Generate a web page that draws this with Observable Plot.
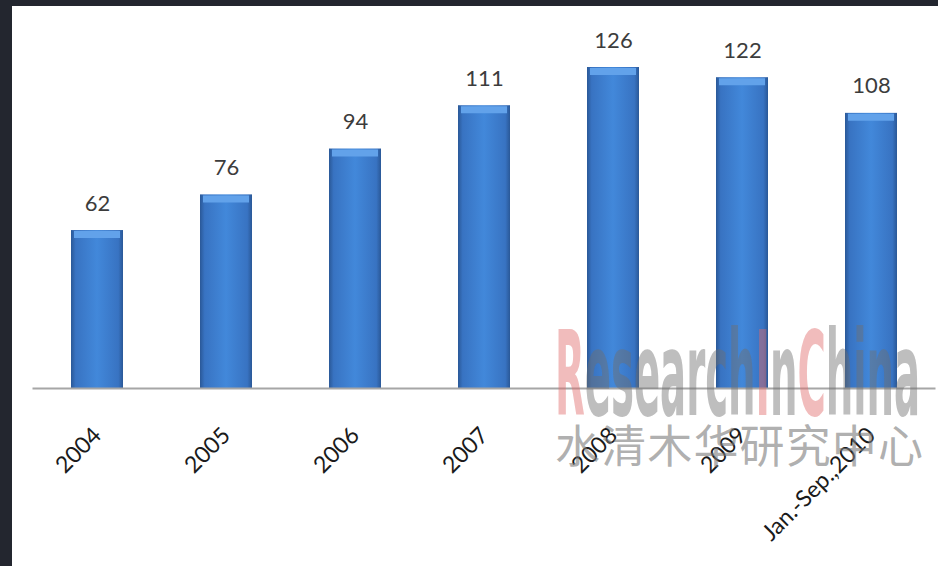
<!DOCTYPE html>
<html><head><meta charset="utf-8">
<script src="https://cdn.jsdelivr.net/npm/d3@7"></script>
<script src="https://cdn.jsdelivr.net/npm/@observablehq/plot@0.6"></script>
<style>
html,body{margin:0;padding:0;background:#23262f;width:938px;height:566px;overflow:hidden}
#chart{position:absolute;left:12px;top:6px;width:926px;height:560px;background:#fff}
</style></head><body><div id="chart"></div>
<script>
const categories = ["2004","2005","2006","2007","2008","2009","Jan.-Sep.,2010"];
const values = [62,76,94,111,126,122,108];
const watermarkParts = [["R","#e06a6a"],["esearch","#6e6e6e"],["I","#e06a6a"],["n","#6e6e6e"],["C","#e06a6a"],["hina","#6e6e6e"]];
const watermarkCN = "水清木华研究中心";

const data = categories.map((c,i)=>({category:c, value:values[i]}));

const plot = Plot.plot({
  width:926, height:560,
  marginTop:61, marginBottom:178, marginLeft:20.5, marginRight:2.5,
  style:{background:"transparent", fontFamily:"Lato, 'Open Sans', sans-serif"},
  x:{domain:categories, paddingInner:0.597, paddingOuter:0.2985, label:null},
  y:{domain:[0,126], axis:null},
  marks:[
    Plot.barY(data,{x:"category", y:"value", fill:"url(#barGrad)"}),
    Plot.tickY(data,{x:"category", y:"value", stroke:"#62a2ea", strokeWidth:7, dy:4, insetLeft:3, insetRight:3}),
    Plot.ruleY([0],{stroke:"#a6a6a6", strokeWidth:2}),
    Plot.text(data,{x:"category", y:"value", text:d=>String(d.value), dy:-27, fontSize:22, fill:"#3c3c3c"}),
    Plot.axisX({tickSize:0, tickPadding:43, tickRotate:-45, fontSize:23, color:"#1a1a1a"})
  ]
});

const svg = d3.select(plot);
const defs = svg.insert("defs", ":first-child");
const g = defs.append("linearGradient").attr("id","barGrad").attr("x1","0").attr("x2","1").attr("y1","0").attr("y2","0");
[["0%","#2a5897"],["9%","#3873c2"],["50%","#4288da"],["91%","#3873c2"],["100%","#2a5897"]]
  .forEach(([o,c])=>g.append("stop").attr("offset",o).attr("stop-color",c));

// watermark
const wm = svg.append("g").attr("pointer-events","none").attr("text-anchor","start");
const t = wm.append("text")
  .attr("x",543).attr("y",409)
  .attr("font-family","'DejaVu Sans Condensed', 'DejaVu Sans', sans-serif")
  .attr("font-weight","bold")
  .attr("font-size",117)
  .attr("textLength",365).attr("lengthAdjust","spacingAndGlyphs")
  .attr("fill-opacity",0.45);
watermarkParts.forEach(([s,c])=>t.append("tspan").attr("fill",c).text(s));
wm.append("text")
  .attr("x",543).attr("y",457)
  .attr("font-family","'Noto Sans CJK SC', sans-serif")
  .attr("font-weight",400)
  .attr("font-size",45)
  .attr("textLength",368).attr("lengthAdjust","spacing")
  .attr("fill","#7a7a7a").attr("fill-opacity",0.6)
  .text(watermarkCN);

document.getElementById("chart").appendChild(plot);
</script></body></html>
